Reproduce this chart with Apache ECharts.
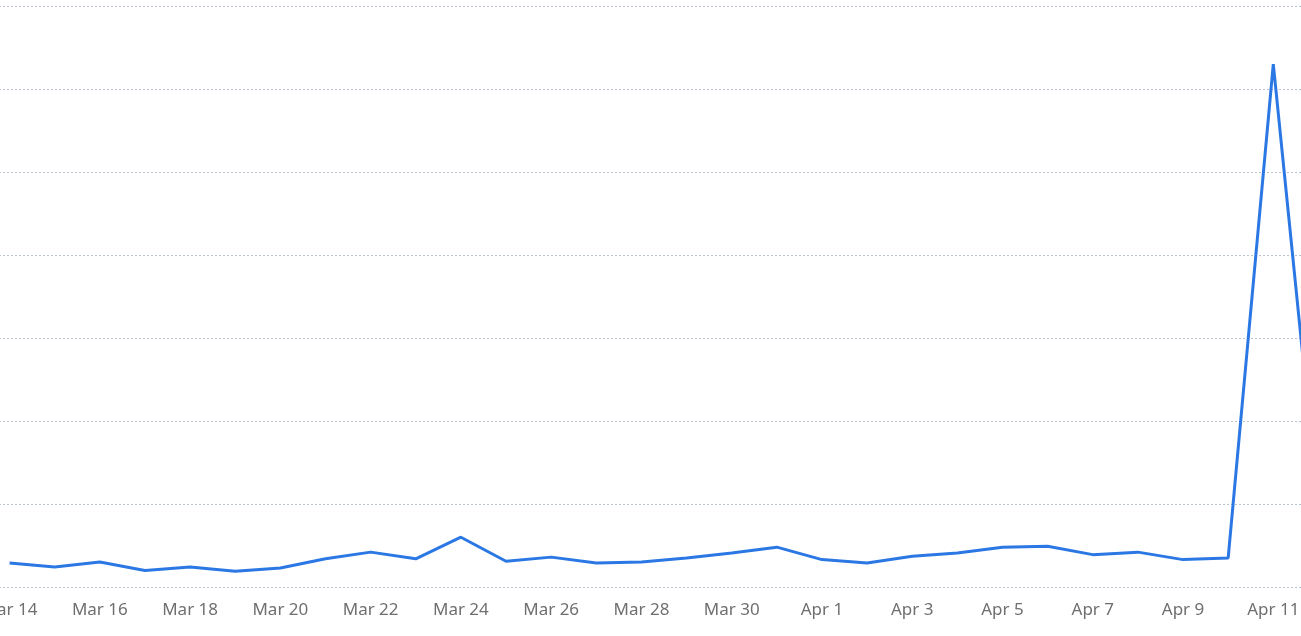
<!DOCTYPE html>
<html><head><meta charset="utf-8">
<script src="https://cdn.jsdelivr.net/npm/echarts@6/dist/echarts.min.js"></script>
<style>html,body{margin:0;padding:0;background:#fff;overflow:hidden;width:1301px;height:636px;}#c{position:absolute;left:-12.6px;top:0;width:1354.2px;height:636px;}</style>
</head><body><div id="c"></div>
<script>
const categories = ["Mar 14","Mar 15","Mar 16","Mar 17","Mar 18","Mar 19","Mar 20","Mar 21","Mar 22","Mar 23","Mar 24","Mar 25","Mar 26","Mar 27","Mar 28","Mar 29","Mar 30","Mar 31","Apr 1","Apr 2","Apr 3","Apr 4","Apr 5","Apr 6","Apr 7","Apr 8","Apr 9","Apr 10","Apr 11","Apr 12"];
const values = [29,24,30,20,24,19,23,34,42,34,60,31,36,29,30,35,41,48,33,29,37,41,48,49,39,42,33,35,630,92];
const yMin = 0, yMax = 700, yStep = 100;

const chart = echarts.init(document.getElementById('c'), null, {renderer:'canvas'});
chart.setOption({
  animation:false,
  grid:{left:0, right:0, top:6, bottom:49, containLabel:false, outerBoundsMode:'none'},
  xAxis:{type:'category', data:categories, boundaryGap:true,
    axisLine:{show:false}, axisTick:{show:false},
    axisLabel:{interval:1, color:'#6f6f6f', fontSize:17, fontFamily:'"Noto Sans", sans-serif', margin:15}},
  yAxis:{type:'value', min:yMin, max:yMax, interval:yStep,
    axisLabel:{show:false}, axisLine:{show:false}, axisTick:{show:false},
    splitLine:{show:true, lineStyle:{type:[2,2], color:'#b9c3cd', width:1}}},
  series:[{type:'line', data:values, symbol:'none', clip:false, lineStyle:{color:'#2b78e4', width:3}}]
});
</script></body></html>
